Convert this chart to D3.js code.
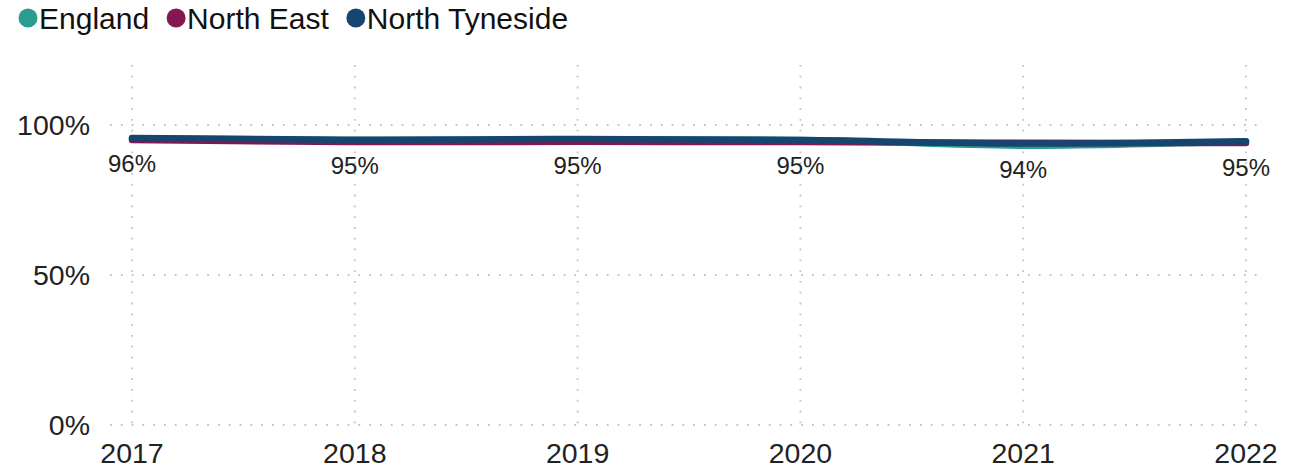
<!DOCTYPE html>
<html>
<head>
<meta charset="utf-8">
<script src="https://cdn.jsdelivr.net/npm/d3@7"></script>
<style>
  body { margin: 0; padding: 0; background: white; }
  text { font-family: "Liberation Sans", Arial, sans-serif; }
</style>
</head>
<body>
<div id="chart"></div>
<script>
const width = 1305;
const height = 472;

const years = ["2017", "2018", "2019", "2020", "2021", "2022"];
const seriesNames = ["England", "North East", "North Tyneside"];
const colors = ["#2a9d8f", "#84174f", "#16466f"];
const england = [95.6, 95.0, 95.2, 95.0, 93.1, 94.5];
const northEast = [95.0, 94.3, 94.4, 94.3, 94.1, 94.0];
const northTyneside = [95.7, 95.1, 95.3, 95.0, 93.8, 94.6];
const labels = ["96%", "95%", "95%", "95%", "94%", "95%"];
const yTicks = [0, 50, 100];

const allSeries = [england, northEast, northTyneside];

const svg = d3.select("#chart")
  .append("svg")
  .attr("width", width)
  .attr("height", height);

const x = d3.scalePoint().domain(years).range([132, 1246]);
const y = d3.scaleLinear().domain([0, 100]).range([425, 125]);

// gridlines
svg.append("g")
  .selectAll("line")
  .data(yTicks)
  .enter()
  .append("line")
  .attr("x1", 110)
  .attr("x2", 1265)
  .attr("y1", d => y(d))
  .attr("y2", d => y(d))
  .style("stroke", "#c4c4c4")
  .style("stroke-width", 1.8)
  .style("stroke-dasharray", "1.8,9");

svg.append("g")
  .selectAll("line")
  .data(years)
  .enter()
  .append("line")
  .attr("x1", d => x(d))
  .attr("x2", d => x(d))
  .attr("y1", 65)
  .attr("y2", y(0))
  .style("stroke", "#c4c4c4")
  .style("stroke-width", 1.8)
  .style("stroke-dasharray", "1.8,9");

// axis labels
svg.append("g")
  .selectAll("text")
  .data(yTicks)
  .enter()
  .append("text")
  .attr("x", 90)
  .attr("y", d => y(d))
  .attr("dy", "0.35em")
  .style("text-anchor", "end")
  .style("font-size", "28.5px")
  .style("fill", "#222")
  .text(d => d + "%");

svg.append("g")
  .selectAll("text")
  .data(years)
  .enter()
  .append("text")
  .attr("x", d => x(d))
  .attr("y", 463)
  .style("text-anchor", "middle")
  .style("font-size", "28.5px")
  .style("fill", "#222")
  .text(d => d);

// lines
const line = d3.line()
  .x((d, i) => x(years[i]))
  .y(d => y(d))
  .curve(d3.curveMonotoneX);

svg.append("g")
  .selectAll("path")
  .data(allSeries)
  .enter()
  .append("path")
  .attr("d", d => line(d))
  .style("fill", "none")
  .style("stroke", (d, i) => colors[i])
  .style("stroke-width", 6.5)
  .style("stroke-linecap", "round")
  .style("stroke-linejoin", "round");

// data labels
svg.append("g")
  .selectAll("text")
  .data(northTyneside)
  .enter()
  .append("text")
  .attr("x", (d, i) => x(years[i]))
  .attr("y", d => y(d) + 26)
  .attr("dy", "0.35em")
  .style("text-anchor", "middle")
  .style("font-size", "24px")
  .style("fill", "#222")
  .text((d, i) => labels[i]);

// legend
const legend = svg.append("g").attr("transform", "translate(19, 18)");
let lx = 0;
seriesNames.forEach((name, i) => {
  legend.append("circle")
    .attr("cx", lx + 9)
    .attr("cy", 0)
    .attr("r", 9.5)
    .style("fill", colors[i]);
  const t = legend.append("text")
    .attr("x", lx + 20)
    .attr("y", 0)
    .attr("dy", "0.35em")
    .style("font-size", "30px")
    .style("fill", "#111")
    .text(name);
  lx += 20 + t.node().getComputedTextLength() + 18;
});
</script>
</body>
</html>
